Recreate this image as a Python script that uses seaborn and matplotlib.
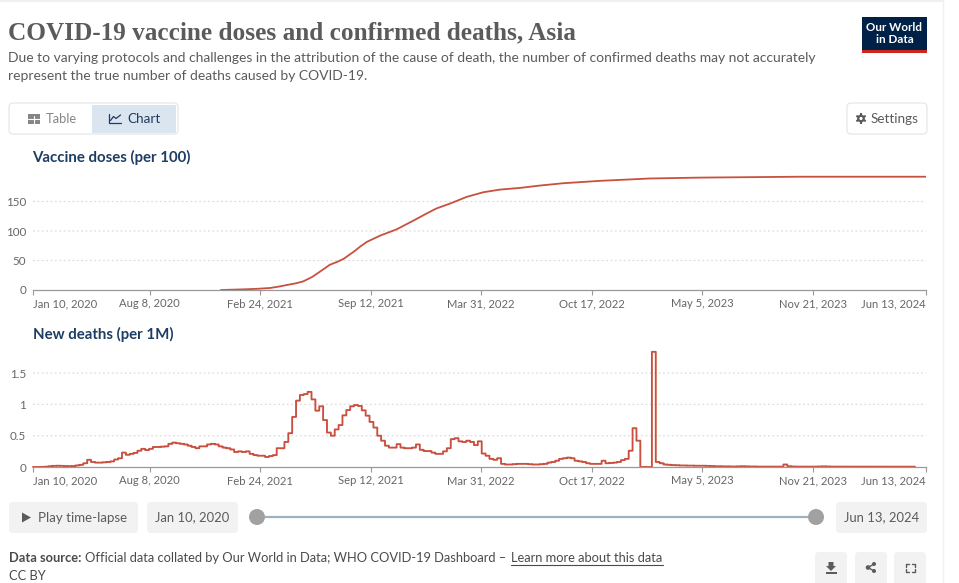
import matplotlib
matplotlib.use("Agg")
import matplotlib.pyplot as plt
from matplotlib.patches import FancyBboxPatch, Rectangle, Circle, Polygon
import numpy as np
import seaborn as sns
import pandas as pd

# ---------- data ----------
TICK_DAYS = [0, 211, 411, 611, 811, 1011, 1211, 1411, 1616]
TICK_LABELS = ["Jan 10, 2020", "Aug 8, 2020", "Feb 24, 2021", "Sep 12, 2021", "Mar 31, 2022",
               "Oct 17, 2022", "May 5, 2023", "Nov 21, 2023", "Jun 13, 2024"]

dose_days = [340, 381, 405, 429, 445, 459, 475, 489, 505, 519, 537, 550, 562, 580, 592, 604, 628, 658, 688, 710,
             730, 755, 785, 815, 845, 881, 917, 960, 1026, 1116, 1207, 1388, 1616]
dose_values = [0, 1.1, 2.0, 3.4, 5.8, 8.4, 11.2, 14.6, 22.0, 30.9, 42.7, 47.5, 52.8, 64.6, 73.5, 81.5, 92.1, 102.8,
               117.4, 128.5, 138.2, 146.6, 157.9, 165.7, 170.2, 173, 177, 181, 185, 189, 190.5, 192, 192]

# weekly values, first week starting Jan 10, 2020
deaths_weekly = [
    0, 0, .002, .005, .012, .018, .02, .018, .015, .012,
    .015, .025, .035, .06, .115, .08, .07, .07, .075, .08,
    .09, .12, .14, .23, .195, .21, .225, .26, .29, .27,
    .29, .32, .32, .325, .33, .37, .39, .38, .37, .36,
    .34, .32, .30, .33, .33, .36, .37, .36, .33, .31,
    .30, .28, .24, .25, .24, .25, .21, .19, .18, .18,
    .16, .175, .19, .30, .30, .40, .54, .80, 1.06, 1.15,
    1.165, 1.20, 1.08, .90, .97, .75, .55, .50, .60, .67,
    .825, .91, .97, .99, .975, .905, .82, .72, .63, .50,
    .42, .34, .31, .31, .365, .31, .30, .30, .31, .36,
    .275, .255, .255, .23, .21, .21, .25, .30, .445, .46,
    .41, .40, .42, .40, .35, .41, .215, .18, .13, .115,
    .14, .05, .04, .04, .045, .05, .05, .05, .045, .04,
    .04, .045, .05, .07, .08, .10, .13, .14, .15, .14,
    .10, .09, .08, .06, .05, .05, .05, .10, .06, .065,
    .07, .08, .11, .13, .26, .62, .42, 0, 0, 0,
    1.84, .08, .06, .04, .035, .03, .028, .025, .024, .022,
    .022, .02, .02, .02, .018, .015, .012, .012, .01, .01,
    .008, .008, .01, .012, .01, .008, .008, .006, .006, .005,
    .005, .005, .006, .006, .04, .012, .008, .006, .005, .005,
    .005, .005, .006, .008, .01, .008, .006, .006, .005, .005,
    .005, .005, .005, .005, .005, .006, .006, .005, .005, .005,
    .005, .005, .005, .005, .005, .005, .005, .005,
]

GREY_TEXT = "#5b5b5b"
NAVY = "#1d3d63"
LINE = "#c9503e"
LATO = ["Lato", "DejaVu Sans"]

sns.set_theme(style="white")
plt.rcParams["font.family"] = LATO

dpi = 100
W, H = 959, 583
fig = plt.figure(figsize=(W / dpi, H / dpi), dpi=dpi, facecolor="white")


def panel(left, right, top, bottom):
    return fig.add_axes([left / W, 1 - bottom / H, (right - left) / W, (bottom - top) / H])


def style_axis(ax, ymax, yticks, ylabels):
    ax.set_xlim(0, 1616)
    ax.set_ylim(0, ymax)
    ax.patch.set_alpha(0)
    for s in ("top", "left", "right"):
        ax.spines[s].set_visible(False)
    ax.spines["bottom"].set_color("#999999")
    ax.spines["bottom"].set_linewidth(0.9)
    ax.set_xticks(TICK_DAYS, TICK_LABELS)
    ax.set_yticks(yticks, ylabels)
    ax.set_xlabel("")
    ax.set_ylabel("")
    ax.tick_params(axis="x", length=3.6, width=0.8, color="#999999", labelcolor="#666666",
                   labelsize=8.1, pad=2.5, bottom=True)
    ax.tick_params(axis="y", length=0, labelcolor="#666666", labelsize=8.4, pad=5)
    xt = ax.get_xticklabels()
    xt[0].set_ha("left")
    xt[-1].set_ha("right")
    for y in yticks[1:]:
        ax.axhline(y, color="#dddddd", lw=0.9, ls=(0, (1.5, 2)), zorder=0)
    ax.grid(False)
    for ln in ax.lines:
        ln.set_snap(False)


# ---------- charts ----------
ax1 = panel(33, 926, 172, 290)
dose_df = pd.DataFrame({"day": dose_days, "value": dose_values})
sns.lineplot(data=dose_df, x="day", y="value", ax=ax1, color=LINE, lw=1.3, estimator=None, errorbar=None)
style_axis(ax1, 200, [0, 50, 100, 150], ["0", "50", "100", "150"])

ax2 = panel(33, 926, 347, 467)
death_days = [7 * i for i in range(len(deaths_weekly) + 1)]
death_df = pd.DataFrame({"day": death_days, "value": deaths_weekly + deaths_weekly[-1:]})
sns.lineplot(data=death_df, x="day", y="value", ax=ax2, color=LINE, lw=1.35, estimator=None,
             errorbar=None, drawstyle="steps-post", clip_on=False)
style_axis(ax2, 120 / 62.6, [0, 0.5, 1, 1.5], ["0", "0.5", "1", "1.5"])

# ---------- page furniture in pixel coordinates ----------
ui = fig.add_axes([0, 0, 1, 1], zorder=-1)
ui.set_xlim(0, W)
ui.set_ylim(H, 0)
ui.axis("off")


def box(x0, y0, x1, y1, fc="white", ec="none", r=4, lw=0.9):
    ui.add_patch(FancyBboxPatch((x0 + r, y0 + r), x1 - x0 - 2 * r, y1 - y0 - 2 * r,
                                boxstyle=f"round,pad={r},rounding_size={r}", fc=fc, ec=ec, lw=lw))


def txt(x, y, s, size, color=GREY_TEXT, weight="normal", ha="left", family=None, va="center"):
    return ui.text(x, y, s, fontsize=size, color=color, fontweight=weight, ha=ha, va=va,
                   family=family or LATO)


# page edges
ui.plot([943, 943], [0, H], color="#f0f0f0", lw=1)
ui.plot([0, 943], [0.5, 0.5], color="#f0f0f0", lw=1.5)

# header
txt(8, 32.5, "COVID-19 vaccine doses and confirmed deaths, Asia", 18.15, weight="bold",
    family=["Liberation Serif", "DejaVu Serif"])
txt(8, 57.5, "Due to varying protocols and challenges in the attribution of the cause of death, "
             "the number of confirmed deaths may not accurately", 10.0)
txt(8, 75.5, "represent the true number of deaths caused by COVID-19.", 10.0)

# logo
ui.add_patch(Rectangle((862, 17), 65, 36, fc="#002147", ec="none"))
ui.add_patch(Rectangle((862, 50), 65, 3, fc="#ce261e", ec="none"))
txt(894.5, 27.5, "Our World", 8.4, color="white", weight="bold", ha="center")
txt(894.5, 39.5, "in Data", 8.4, color="white", weight="bold", ha="center")

# tabs
box(9, 103, 178, 134, ec="#e7e7e7")
ui.add_patch(Rectangle((92, 105), 84, 28, fc="#dbe5f0", ec="none"))
ui.add_patch(Rectangle((28, 114), 12, 9.5, fc="#858585", ec="none"))
ui.plot([28, 40], [118.5, 118.5], color="white", lw=0.8)
ui.plot([34, 34], [116, 123.5], color="white", lw=0.8)
txt(46, 119, "Table", 9.3, color="#858585")
ui.plot([108.5, 108.5, 121], [113.5, 123, 123], color=NAVY, lw=0.9)
ui.plot([110.5, 113.5, 116, 120.5], [120.5, 116.5, 118.5, 115], color=NAVY, lw=0.9)
txt(127, 119, "Chart", 9.7, color=NAVY)

# settings
box(847, 103, 927, 134, ec="#e7e7e7")
for a in np.arange(0, 180, 60):
    dx, dy = 5.4 * np.cos(np.radians(a + 90)), 5.4 * np.sin(np.radians(a + 90))
    ui.plot([861 - dx, 861 + dx], [118.5 - dy, 118.5 + dy], color=GREY_TEXT, lw=1.5, solid_capstyle="butt")
ui.add_patch(Circle((861, 118.5), 3.9, fc=GREY_TEXT, ec="none", zorder=3))
ui.add_patch(Circle((861, 118.5), 1.6, fc="white", ec="none", zorder=4))
txt(871, 119, "Settings", 9.7)

# panel titles
txt(32.5, 157, "Vaccine doses (per 100)", 10.8, color=NAVY, weight="bold")
txt(33, 334, "New deaths (per 1M)", 10.8, color=NAVY, weight="bold")

# timeline
box(9, 502, 138, 533, fc="#f2f2f2")
ui.add_patch(Polygon([(22, 512.5), (22, 522.5), (31, 517.5)], fc=GREY_TEXT, ec="none"))
txt(38, 517.5, "Play time-lapse", 9.5)
box(147, 502, 238, 533, fc="#f2f2f2")
txt(192.5, 517.5, "Jan 10, 2020", 9.4, ha="center")
ui.plot([265, 808], [517, 517], color="#9eb0c2", lw=1.6, solid_capstyle="butt")
ui.add_patch(Circle((257, 517), 8, fc="#a1a1a1", ec="none"))
ui.add_patch(Circle((816, 517), 8, fc="#a1a1a1", ec="none"))
box(836, 502, 927, 533, fc="#f2f2f2")
txt(881.5, 517.5, "Jun 13, 2024", 9.4, ha="center")

# footer
txt(9, 557.5, "Data source:", 9.25, color="#4a4a4a", weight="bold")
txt(85, 557.5, "Official data collated by Our World in Data; WHO COVID-19 Dashboard \u2013", 9.25, color="#4a4a4a")
txt(511, 557.5, "Learn more about this data", 9.25, color="#4a4a4a")
ui.plot([511, 663], [565, 565], color="#4a4a4a", lw=0.8)
txt(9, 576, "CC BY", 9.25, color="#4a4a4a")

# action buttons
for x0 in (815, 855, 894):
    box(x0, 552, x0 + 32, 587, fc="#f2f2f2")
ui.add_patch(Polygon([(828.5, 562), (833.5, 562), (833.5, 566), (836, 566), (831, 571), (826, 566), (828.5, 566)],
                     fc=GREY_TEXT, ec="none"))
ui.add_patch(Rectangle((825.5, 571.5), 11, 2, fc=GREY_TEXT, ec="none"))
ui.plot([874, 868, 874], [564, 567.5, 571], color=GREY_TEXT, lw=1)
for cx, cy, r in ((874, 564, 2), (868, 567.5, 2.3), (874, 571, 2)):
    ui.add_patch(Circle((cx, cy), r, fc=GREY_TEXT, ec="none"))
for sx, sy in ((905.5, 563.5), (914.5, 563.5), (905.5, 572), (914.5, 572)):
    dx = 3 if sx < 910 else -3
    dy = 3 if sy < 567 else -3
    ui.plot([sx + dx, sx, sx], [sy, sy, sy + dy], color=GREY_TEXT, lw=1)

fig.savefig("out.png", dpi=dpi, facecolor="white")
